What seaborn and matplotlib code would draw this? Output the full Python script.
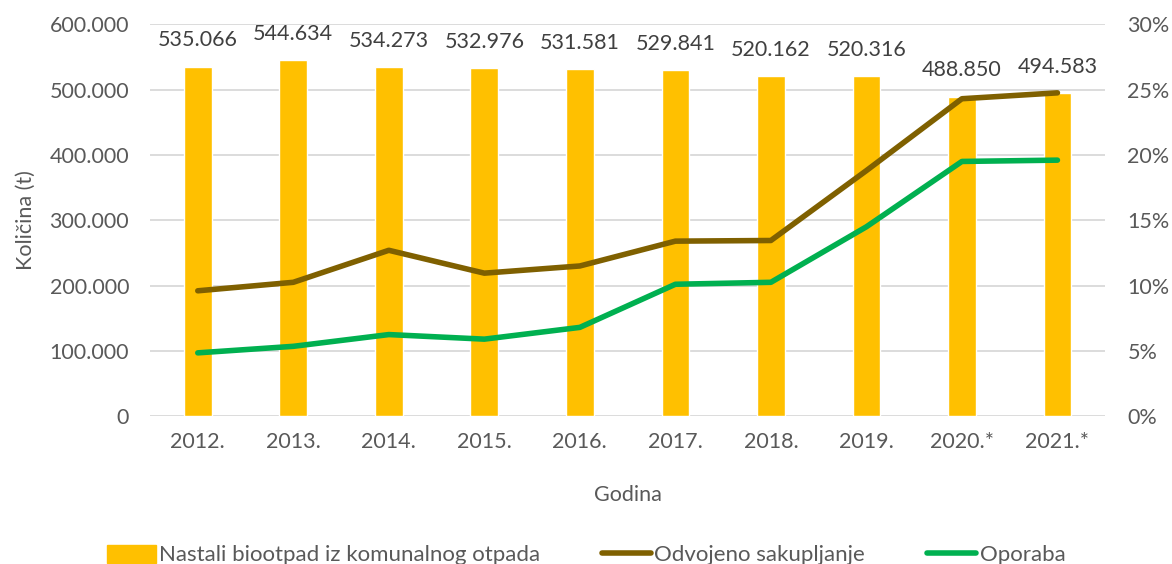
import numpy as np
import pandas as pd
import matplotlib
matplotlib.use("Agg")
import matplotlib.pyplot as plt
import matplotlib.ticker as mticker
from matplotlib.patches import Patch
from matplotlib.lines import Line2D
import seaborn as sns

years = ["2012.", "2013.", "2014.", "2015.", "2016.", "2017.", "2018.", "2019.", "2020.*", "2021.*"]
nastali = [535066, 544634, 534273, 532976, 531581, 529841, 520162, 520316, 488850, 494583]
odvojeno = [9.6, 10.25, 12.7, 10.95, 11.5, 13.4, 13.45, 18.8, 24.3, 24.75]
oporaba = [4.85, 5.35, 6.25, 5.9, 6.8, 10.1, 10.25, 14.5, 19.5, 19.6]

gray = "#595959"
bar_col = "#FFC000"
brown = "#7F6000"
green = "#00B050"


def fmt_thousands(v, pos=None):
    return f"{int(round(v)):,}".replace(",", ".")


def main():
    sns.set_style("white")
    plt.rcParams["font.family"] = ["Lato", "DejaVu Sans"]
    fs = 15.5

    df = pd.DataFrame({"godina": years, "nastali": nastali,
                       "odvojeno": odvojeno, "oporaba": oporaba})
    df["pos"] = np.arange(len(df))

    fig = plt.figure(figsize=(11.72, 5.64), dpi=100)
    ax = fig.add_axes([0.128, 0.262, 0.815, 0.695])

    sns.barplot(data=df, x="godina", y="nastali", color=bar_col, width=0.29,
                saturation=1, ax=ax, zorder=2)
    ax.set_ylim(0, 600000)
    ax.set_xlim(-0.5, len(df) - 0.5)
    ax.yaxis.set_major_locator(mticker.MultipleLocator(100000))
    ax.yaxis.set_major_formatter(mticker.FuncFormatter(fmt_thousands))
    ax.grid(axis="y", color="#D9D9D9", linewidth=1.3, zorder=0)
    ax.set_axisbelow(True)
    for s in ax.spines.values():
        s.set_visible(False)
    ax.tick_params(axis="y", length=0, labelsize=fs, colors=gray, pad=15)
    ax.tick_params(axis="x", length=0, labelsize=fs, colors=gray, pad=11)
    ax.set_xlabel("Godina", fontsize=fs, color=gray, labelpad=24)
    ax.set_ylabel("Količina (t)", fontsize=fs, color=gray, labelpad=10)

    for i, v in enumerate(nastali):
        ax.annotate(fmt_thousands(v), (i, v), xytext=(0, 19), textcoords="offset points",
                    ha="center", va="center", fontsize=fs, color="#404040")

    ax2 = ax.twinx()
    sns.lineplot(data=df, x="pos", y="odvojeno", color=brown, linewidth=4,
                 ax=ax2, solid_capstyle="round")
    sns.lineplot(data=df, x="pos", y="oporaba", color=green, linewidth=4,
                 ax=ax2, solid_capstyle="round")
    ax2.set_ylim(0, 30)
    ax2.yaxis.set_major_locator(mticker.MultipleLocator(5))
    ax2.yaxis.set_major_formatter(mticker.FuncFormatter(lambda v, p: f"{int(v)}%"))
    ax2.set_xlim(-0.5, len(df) - 0.5)
    ax2.set_ylabel("")
    ax2.set_xlabel("")
    for s in ax2.spines.values():
        s.set_visible(False)
    ax2.tick_params(axis="y", length=0, labelsize=fs, colors=gray, pad=16)
    ax2.grid(False)

    handles = [Patch(color=bar_col),
               Line2D([0], [0], color=brown, linewidth=4, solid_capstyle="round"),
               Line2D([0], [0], color=green, linewidth=4, solid_capstyle="round")]
    labels = ["Nastali biootpad iz komunalnog otpada", "Odvojeno sakupljanje", "Oporaba"]
    fig.legend(handles, labels, loc="center", bbox_to_anchor=(0.5, 0.016), ncol=3,
               frameon=False, fontsize=16, labelcolor=gray, handlelength=2.2,
               handleheight=0.9, handletextpad=0.15, columnspacing=2.8)

    fig.savefig("out.png", dpi=100)


if __name__ == "__main__":
    main()
